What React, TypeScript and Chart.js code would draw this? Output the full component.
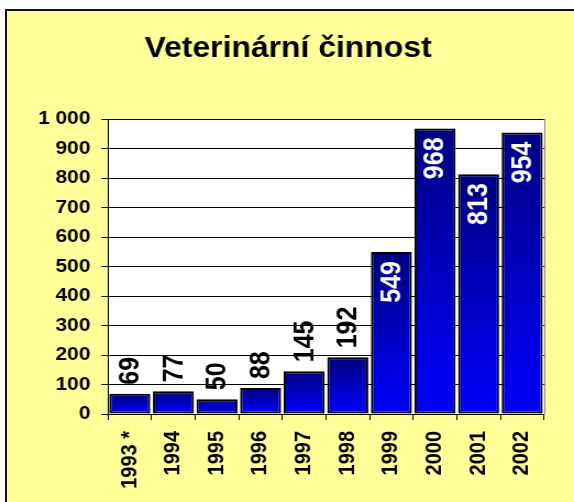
import React, { useEffect, useRef } from "react";
import { Chart, registerables } from "chart.js";

Chart.register(...registerables);

const chartTitle = "Veterinární činnost";
const categories = ["1993 *", "1994", "1995", "1996", "1997", "1998", "1999", "2000", "2001", "2002"];
const values = [69, 77, 50, 88, 145, 192, 549, 968, 813, 954];
const yTickLabels = ["0", "100", "200", "300", "400", "500", "600", "700", "800", "900", "1 000"];

const FONT = '"Liberation Sans", Arial, sans-serif';
const STRETCH = 574 / 522;

const plotPlugin = {
  id: "plotDecor",
  beforeDraw(chart: any) {
    const { ctx, chartArea } = chart;
    if (!chartArea) return;
    ctx.save();
    ctx.fillStyle = "#ffffff";
    ctx.fillRect(chartArea.left, chartArea.top, chartArea.right - chartArea.left, chartArea.bottom - chartArea.top);
    ctx.restore();
    ctx.save();
    ctx.font = `bold 29px ${FONT}`;
    ctx.fillStyle = "#000000";
    ctx.textAlign = "center";
    ctx.textBaseline = "alphabetic";
    ctx.fillText(chartTitle, 262, 57);
    ctx.restore();
  },
  afterDraw(chart: any) {
    const { ctx, chartArea } = chart;
    ctx.save();
    ctx.strokeStyle = "#808080";
    ctx.lineWidth = 1;
    ctx.beginPath();
    ctx.moveTo(Math.round(chartArea.right) + 0.5, chartArea.top);
    ctx.lineTo(Math.round(chartArea.right) + 0.5, chartArea.bottom);
    ctx.stroke();
    ctx.restore();
  },
  afterDatasetsDraw(chart: any) {
    const { ctx } = chart;
    const meta = chart.getDatasetMeta(0);
    ctx.save();
    ctx.font = `bold 25px ${FONT}`;
    ctx.textBaseline = "middle";
    meta.data.forEach((bar: any, i: number) => {
      const text = String(values[i]);
      const w = ctx.measureText(text).width;
      const pad = 9;
      const h = bar.base - bar.y;
      ctx.save();
      if (h > w + 2 * pad) {
        ctx.fillStyle = "#ffffff";
        ctx.translate(bar.x, bar.y + pad);
        ctx.rotate(-Math.PI / 2);
        ctx.textAlign = "right";
      } else {
        ctx.fillStyle = "#000000";
        ctx.translate(bar.x, bar.y - pad);
        ctx.rotate(-Math.PI / 2);
        ctx.textAlign = "left";
      }
      ctx.fillText(text, 0, 1);
      ctx.restore();
    });
    ctx.restore();
  },
};

export default function App() {
  const canvasRef = useRef<HTMLCanvasElement | null>(null);

  useEffect(() => {
    if (!canvasRef.current) return;
    const chart = new Chart(canvasRef.current, {
      type: "bar",
      data: {
        labels: categories,
        datasets: [
          {
            data: values,
            backgroundColor: (c: any) => {
              const ch = c.chart;
              if (!ch.chartArea || c.type !== "data") return "#0000ff";
              const ys = ch.scales.y;
              const top = ys.getPixelForValue(c.raw as number);
              const bottom = ys.getPixelForValue(0);
              const g = ch.ctx.createLinearGradient(0, top, 0, bottom);
              g.addColorStop(0, "#000080");
              g.addColorStop(1, "#0000ff");
              return g;
            },
            borderColor: "#000000",
            borderWidth: 2,
            borderSkipped: false,
            barPercentage: 0.94,
            categoryPercentage: 1,
          },
        ],
      },
      options: {
        animation: false,
        responsive: true,
        maintainAspectRatio: false,
        layout: { padding: { top: 119, left: 0, right: 27.3, bottom: 0 } },
        plugins: {
          legend: { display: false },
          title: { display: false },
          tooltip: { enabled: false },
        },
        scales: {
          x: {
            grid: { drawOnChartArea: false, drawTicks: true, tickLength: 6, color: "#000000", offset: true },
            border: { display: true, color: "#000000", width: 1 },
            ticks: {
              color: "#000000",
              font: { family: FONT, size: 20, weight: "bold" },
              minRotation: 90,
              maxRotation: 90,
              padding: 11,
              autoSkip: false,
            },
            afterFit: (s: any) => {
              s.height = 88;
            },
          },
          y: {
            min: 0,
            max: 1000,
            grid: { color: "#000000", lineWidth: 1, tickLength: 6, drawTicks: true },
            border: { display: true, color: "#000000", width: 1 },
            ticks: {
              stepSize: 100,
              color: "#000000",
              font: { family: FONT, size: 19, weight: "bold" },
              padding: 10,
              callback: (_v: any, i: number) => yTickLabels[i],
            },
            afterFit: (s: any) => {
              s.width = 98.2;
            },
          },
        },
      },
      plugins: [plotPlugin],
    });
    return () => chart.destroy();
  }, []);

  return (
    <div style={{ position: "fixed", left: 0, top: 0, width: 574, height: 502, overflow: "hidden", background: "#ffffff" }}>
      <div
        style={{
          position: "absolute",
          left: 5,
          top: 9,
          width: 620,
          height: 560,
          borderTop: "2px solid #111111",
          borderLeft: "2px solid #111111",
          background: "#ffff99",
        }}
      />
      <div
        style={{
          position: "absolute",
          left: 0,
          top: 0,
          width: 522,
          height: 502,
          transform: `scaleX(${STRETCH})`,
          transformOrigin: "0 0",
        }}
      >
        <canvas ref={canvasRef} />
      </div>
    </div>
  );
}
